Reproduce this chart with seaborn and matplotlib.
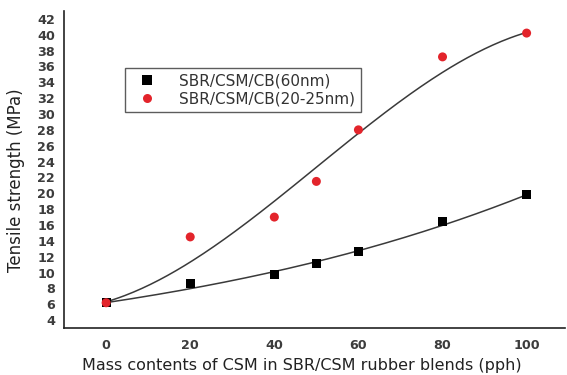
import numpy as np
import pandas as pd
import matplotlib
matplotlib.use("Agg")
import matplotlib.pyplot as plt
from matplotlib.ticker import MultipleLocator
import seaborn as sns

# CSM loading (pph) and tensile strength (MPa) for the two carbon black grades
csm_pph = [0, 20, 40, 50, 60, 80, 100]
ts_cb60 = [6.2, 8.6, 9.8, 11.1, 12.6, 16.5, 19.8]
ts_cb2025 = [6.2, 14.5, 17.0, 21.5, 28.0, 37.2, 40.2]
series_names = ["SBR/CSM/CB(60nm)", "SBR/CSM/CB(20-25nm)"]

sns.set_style("white")
plt.rcParams["font.family"] = ["DejaVu Sans"]

fig = plt.figure(figsize=(5.67, 3.75), dpi=100)
ax = fig.add_axes([0.113, 0.125, 0.884, 0.846])

df = pd.DataFrame({
    "x": csm_pph * 2,
    "y": ts_cb60 + ts_cb2025,
    "series": [series_names[0]] * len(csm_pph) + [series_names[1]] * len(csm_pph),
})

# smooth fitted trend for each series (end points weighted)
xs = np.linspace(0, 100, 200)
w = np.array([4, 1, 1, 1, 1, 1, 4], dtype=float)
fit60 = np.polyval(np.polyfit(csm_pph, ts_cb60, 3, w=w), xs)
w_r = np.array([3, 1, 1, 1, 1, 1, 3], dtype=float)
fit2025 = np.polyval(np.polyfit(csm_pph, ts_cb2025, 3, w=w_r), xs)
sns.lineplot(x=xs, y=fit60, ax=ax, color="#3a3a3a", lw=1.1, zorder=2)
sns.lineplot(x=xs, y=fit2025, ax=ax, color="#3a3a3a", lw=1.1, zorder=2)

sns.scatterplot(data=df, x="x", y="y", hue="series", style="series",
                palette={series_names[0]: "black", series_names[1]: "#e3242b"},
                markers={series_names[0]: "s", series_names[1]: "o"},
                s=42, linewidth=0, ax=ax, zorder=3)

ax.set_xlim(-10, 109.2)
ax.set_ylim(3, 43)
ax.xaxis.set_major_locator(MultipleLocator(20))
ax.xaxis.set_minor_locator(MultipleLocator(10))
ax.yaxis.set_minor_locator(MultipleLocator(1))
ax.set_yticks(np.arange(4, 43, 2))

for side in ("top", "right"):
    ax.spines[side].set_visible(False)
for side in ("left", "bottom"):
    ax.spines[side].set_color("#222222")
    ax.spines[side].set_linewidth(1.2)

ax.tick_params(which="major", direction="out", length=4, width=1.1, color="#222222",
               labelsize=9.2, labelcolor="#3c3c3c", pad=2.5)
ax.tick_params(which="minor", direction="out", length=2.5, width=1.0, color="#222222")
ax.tick_params(axis="x", which="major", pad=4)
for lab in ax.get_xticklabels() + ax.get_yticklabels():
    lab.set_fontweight("bold")

ax.set_xlabel("Mass contents of CSM in SBR/CSM rubber blends (pph)",
              fontsize=11.5, color="#222222")
ax.xaxis.set_label_coords(0.475, -0.118, transform=ax.transAxes)
ax.xaxis.label.set_va("center")
ax.set_ylabel("Tensile strength (MPa)", fontsize=12, color="#222222")
ax.yaxis.set_label_coords(-0.096, 0.467, transform=ax.transAxes)
ax.yaxis.label.set_va("center")

leg = ax.legend(loc="upper left", bbox_to_anchor=(0.122, 0.82), frameon=True,
                fancybox=False, edgecolor="#333333",
                handletextpad=1.0, handlelength=2.2, borderpad=0.35,
                labelspacing=0.2, borderaxespad=0, prop={"size": 11})
leg.get_frame().set_linewidth(1.0)
for t in leg.get_texts():
    t.set_color("#333333")

fig.savefig("out.png", dpi=100)
